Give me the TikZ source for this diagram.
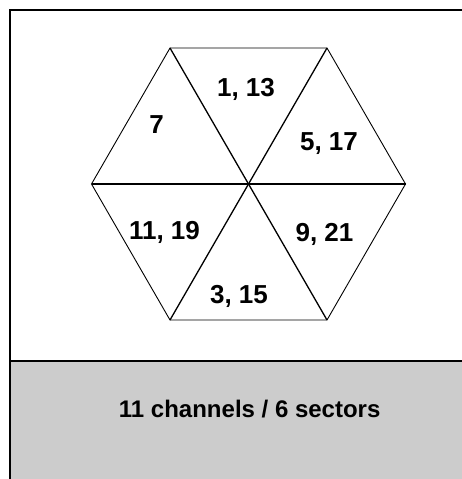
\documentclass[tikz,border=0pt]{standalone}
\usepackage{fontspec}
\setmainfont{Liberation Sans}
\begin{document}
\begin{tikzpicture}[x=1pt,y=-1pt,
  lbl/.style={anchor=base,inner sep=0pt,font=\fontsize{26}{26}\selectfont\bfseries},
  captiontext/.style={anchor=base,inner sep=0pt,font=\fontsize{24}{24}\selectfont\bfseries},
  frameline/.style={line width=2pt,line cap=rect},
  hexline/.style={line width=0.9pt},
  spoke/.style={line width=1.3pt}]
\useasboundingbox (0,0) rectangle (462,479);
% gray band
\fill[fill={rgb,255:red,204;green,204;blue,204}] (10,361) rectangle (462,479);
% frame
\draw[frameline] (10,479) -- (10,9.5) -- (462,9.5);
\draw[frameline] (10,361) -- (462,361);
% hexagon
\coordinate (c) at (248.5,184);
\coordinate (v0) at (405.5,184);
\coordinate (v1) at (327,48);
\coordinate (v2) at (170,48);
\coordinate (v3) at (91.5,184);
\coordinate (v4) at (170,320);
\coordinate (v5) at (327,320);
\draw[hexline] (v0) -- (v1) -- (v2) -- (v3) -- (v4) -- (v5) -- cycle;
\draw[spoke] (c) -- (v0);
\draw[spoke] (c) -- (v1);
\draw[spoke] (c) -- (v2);
\draw[spoke] (c) -- (v3);
\draw[spoke] (c) -- (v4);
\draw[spoke] (c) -- (v5);
% labels
\node[lbl] (s7) at (156.5,133.3) {7};
\node[lbl] (s1) at (246,96) {1, 13};
\node[lbl] (s5) at (329,150.7) {5, 17};
\node[lbl] (s11) at (164.5,239.3) {11, 19};
\node[lbl] (s9) at (324.5,241.7) {9, 21};
\node[lbl] (s3) at (239,303.3) {3, 15};
\node[captiontext] (title) at (249.7,417.3) {11 channels / 6 sectors};
\end{tikzpicture}
\end{document}
